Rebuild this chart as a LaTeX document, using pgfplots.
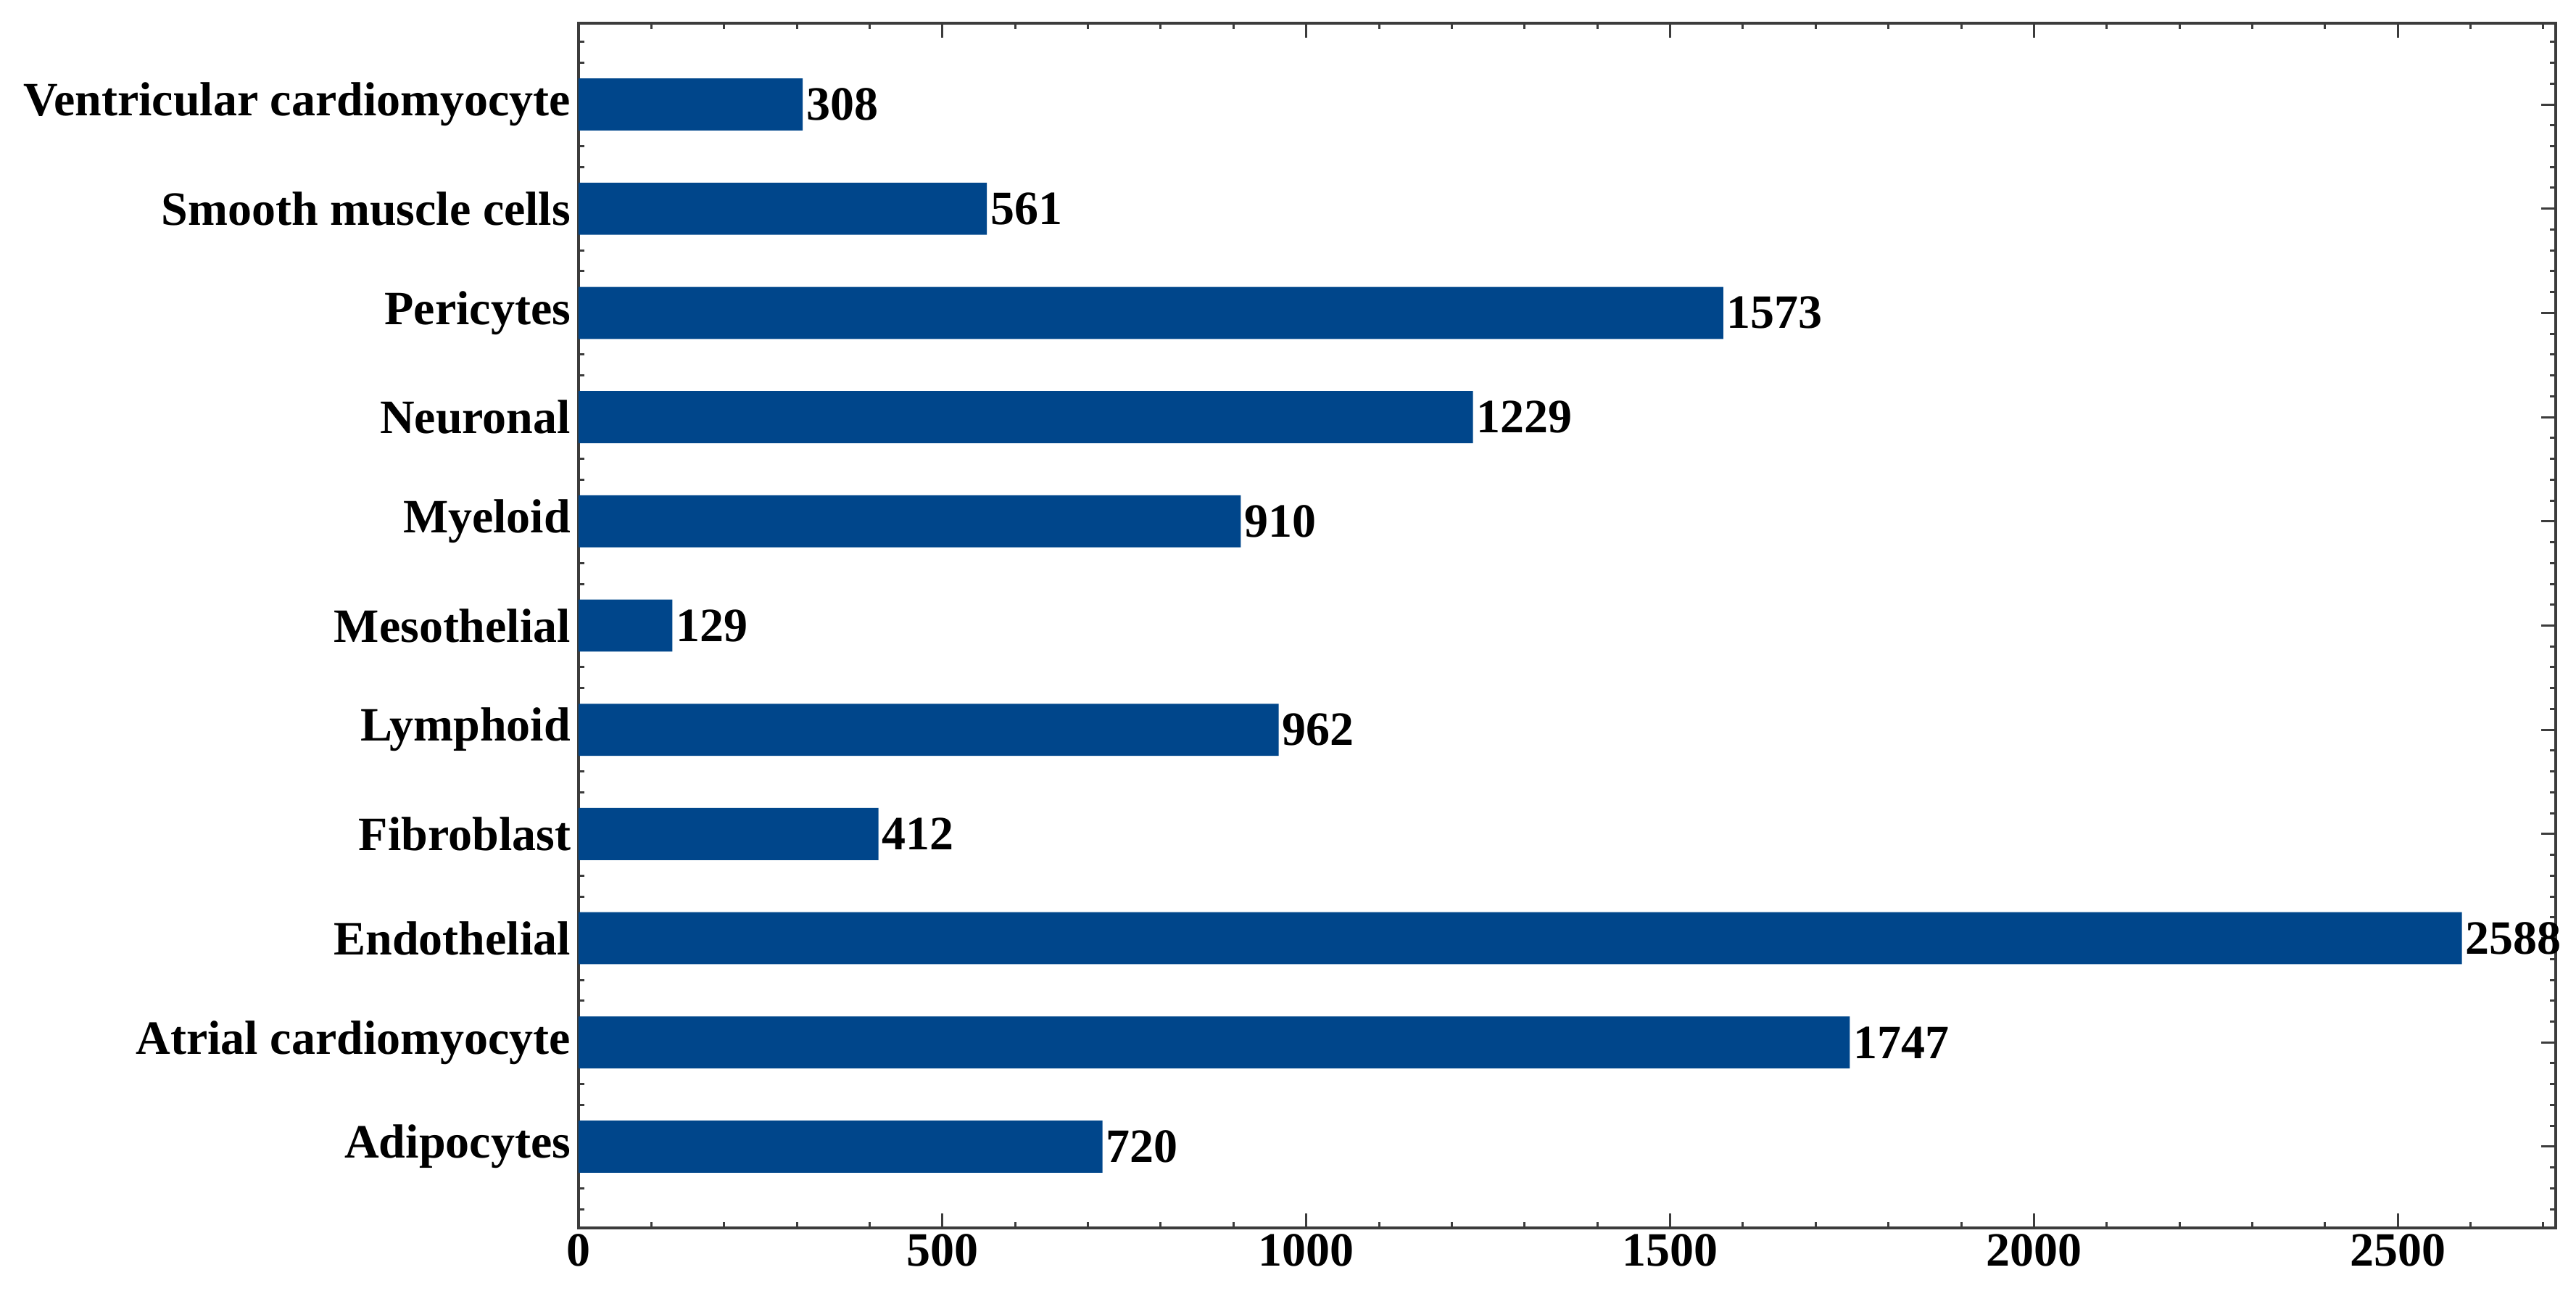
\documentclass[border=0pt]{standalone}
\usepackage{fontspec}
\setmainfont{Liberation Serif}
\usepackage{pgfplots}
\pgfplotsset{compat=1.18}
\definecolor{barblue}{RGB}{0,70,139}
\definecolor{framegray}{RGB}{60,60,60}
\begin{document}
\begin{tikzpicture}
\begin{axis}[
  name=ax,
  scale only axis,
  width=545.4pt, height=332.2pt,
  xbar, bar width=0.5,
  xmin=0, xmax=2717, ymin=-0.78, ymax=10.78,
  ytick={-1,0,1,2,3,4,5,6,7,8,9,10,11},
  yticklabels={,Adipocytes,Atrial cardiomyocyte,Endothelial,Fibroblast,Lymphoid,Mesothelial,Myeloid,Neuronal,Pericytes,Smooth muscle cells,Ventricular cardiomyocyte,},
  xtick={0,500,1000,1500,2000,2500,3000},
  minor x tick num=4, minor y tick num=4,
  tick align=inside,
  major tick length=4pt, minor tick length=1.6pt,
  tick style={line width=0.6pt, color=framegray},
  axis line style={line width=0.8pt, color=framegray},
  /pgf/number format/assume math mode=true,
  /pgf/number format/1000 sep={},
  ticklabel style={font=\fontsize{13.2}{15}\selectfont\bfseries},
  yticklabel style={inner xsep=2pt},
  xticklabel style={inner ysep=1.5pt},
  point meta=explicit symbolic,
  nodes near coords,
  every node near coord/.append style={font=\fontsize{13.2}{15}\selectfont\bfseries, anchor=west, inner xsep=0.8pt, color=black},
  clip=false,
]
\addplot[fill=barblue, draw=none] coordinates {
  (720,0) [720]
  (1747,1) [1747]
  (2588,2) [2588]
  (412,3) [412]
  (962,4) [962]
  (129,5) [129]
  (910,6) [910]
  (1229,7) [1229]
  (1573,8) [1573]
  (561,9) [561]
  (308,10) [308]
};
\end{axis}
\pgfresetboundingbox
\path[use as bounding box] ([xshift=-159.6pt,yshift=-19.4pt]ax.south west) rectangle ([xshift=5.6pt,yshift=6.4pt]ax.north east);
\end{tikzpicture}
\end{document}
